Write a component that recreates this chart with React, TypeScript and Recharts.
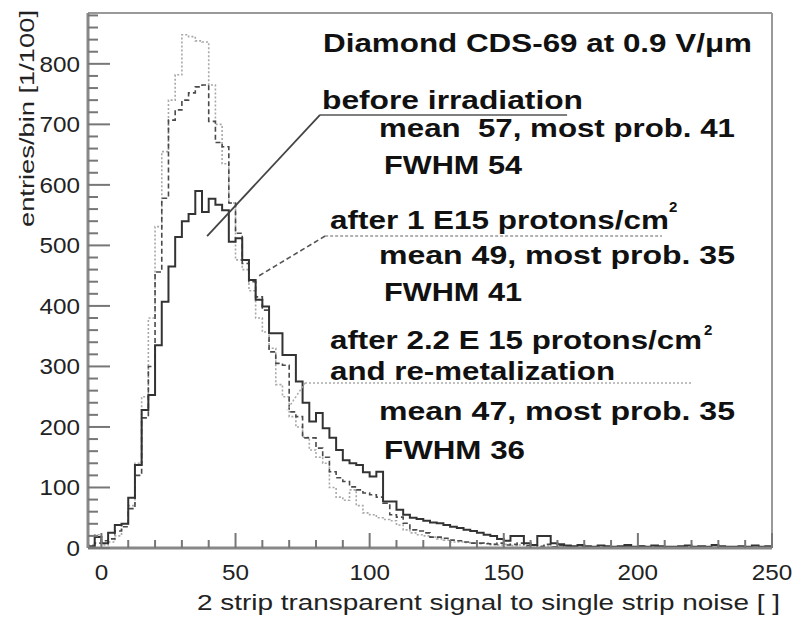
import { ComposedChart, Line, XAxis, YAxis, ReferenceLine } from "recharts";

// histogram bins: 2.5 wide, starting at -5
const binStart = -5;
const binWidth = 2.5;

const beforeIrradiation = [
  3, 18, 8, 25, 38, 40, 83, 137, 228, 253,
  335, 407, 465, 514, 540, 552, 590, 555, 577, 567,
  558, 506, 512, 476, 443, 410, 399, 355, 355, 319,
  319, 275, 240, 209, 223, 198, 182, 162, 145, 140,
  137, 125, 118, 126, 77, 77, 63, 55, 50, 48,
  45, 42, 41, 38, 35, 33, 30, 28, 25, 22,
  20, 15, 12, 20, 20, 8, 5, 20, 20, 8,
  6, 4, 3, 5, 3, 2, 4, 3, 2, 3,
  5, 2, 3, 2, 4, 3, 2, 2, 3, 4,
  2, 3, 2, 5, 3, 2, 2, 3, 2, 4,
  2, 3,
];

const after1E15 = [
  0, 8, 12, 15, 28, 35, 65, 120, 215, 300,
  456, 578, 707, 724, 740, 752, 762, 765, 705, 670,
  663, 570, 520, 470, 440, 415, 393, 324, 305, 302,
  225, 217, 182, 182, 165, 150, 126, 116, 110, 101,
  96, 91, 88, 84, 74, 55, 51, 41, 30, 28,
  25, 18, 18, 16, 13, 12, 10, 8, 8, 7,
  6, 8, 5, 6, 8, 4, 5, 3, 6, 2,
  4, 3, 2, 3, 1, 2, 3, 2, 1, 2,
  2, 1, 3, 1, 2, 1, 2, 1, 1, 2,
  1, 1, 2, 1, 1, 1, 2, 1, 1, 1,
  1, 1,
];

const after22E15 = [
  5, 22, 5, 10, 20, 40, 70, 140, 250, 380,
  531, 655, 740, 782, 848, 845, 838, 836, 765, 700,
  635, 570, 476, 460, 425, 380, 357, 330, 270, 250,
  217, 200, 183, 162, 150, 140, 100, 84, 79, 96,
  70, 58, 55, 50, 47, 45, 38, 30, 25, 22,
  20, 18, 15, 13, 10, 10, 9, 8, 7, 8,
  6, 5, 6, 4, 5, 3, 4, 2, 3, 2,
  1, 3, 1, 2, 1, 1, 2, 1, 1, 1,
  2, 1, 1, 0, 1, 1, 1, 0, 1, 1,
  0, 1, 1, 0, 1, 0, 1, 1, 0, 1,
  0, 1,
];

const xTicks = [
  0, 10, 20, 30, 40, 50, 60, 70, 80, 90, 100, 110, 120, 130, 140, 150,
  160, 170, 180, 190, 200, 210, 220, 230, 240, 250,
];
const yTicks = [
  0, 20, 40, 60, 80, 100, 120, 140, 160, 180, 200, 220, 240, 260, 280, 300,
  320, 340, 360, 380, 400, 420, 440, 460, 480, 500, 520, 540, 560, 580, 600,
  620, 640, 660, 680, 700, 720, 740, 760, 780, 800, 820, 840, 860, 880,
];

const n = beforeIrradiation.length;
const rows = beforeIrradiation
  .map((_, i) => binStart + i * binWidth)
  .concat([250])
  .map((x, i) => ({
    x,
    before: beforeIrradiation[Math.min(i, n - 1)],
    p1: after1E15[Math.min(i, n - 1)],
    p22: after22E15[Math.min(i, n - 1)],
  }));

const font = "'Liberation Sans', Arial, Helvetica, sans-serif";

const XTick = (props: any) => {
  const { x, y, payload } = props;
  const major = payload.value % 50 === 0;
  const label = String(payload.value);
  return (
    <g>
      <line x1={x} x2={x} y1={y} y2={y - (major ? 15 : 8)} stroke="#777" strokeWidth={2} />
      {major && (
        <text
          x={x}
          y={y + 32}
          textAnchor="middle"
          fontFamily={font}
          fontSize={22}
          fill="#222"
          textLength={label.length * 13.5}
          lengthAdjust="spacingAndGlyphs"
        >
          {label}
        </text>
      )}
    </g>
  );
};

const YTick = (props: any) => {
  const { x, y, payload } = props;
  const major = payload.value % 100 === 0;
  const label = String(payload.value);
  return (
    <g>
      <line x1={x} x2={x + (major ? 22 : 10)} y1={y} y2={y} stroke="#777" strokeWidth={2} />
      {major && payload.value <= 800 && (
        <text
          x={x - 8}
          y={y + 8}
          textAnchor="end"
          fontFamily={font}
          fontSize={22}
          fill="#222"
          textLength={label.length * 13.5}
          lengthAdjust="spacingAndGlyphs"
        >
          {label}
        </text>
      )}
    </g>
  );
};

const notes = [
  { t: "Diamond CDS-69 at 0.9 V/\u03bcm", x: 323, y: 52, w: 429 },
  { t: "before irradiation", x: 322, y: 109, w: 261 },
  { t: "mean  57, most prob. 41", x: 379, y: 137, w: 356 },
  { t: "FWHM 54", x: 384, y: 174, w: 138 },
  { t: "after 1 E15 protons/cm", x: 330, y: 229, w: 339 },
  { t: "mean 49, most prob. 35", x: 379, y: 264, w: 356 },
  { t: "FWHM 41", x: 384, y: 301, w: 138 },
  { t: "after 2.2 E 15 protons/cm", x: 330, y: 349, w: 372 },
  { t: "and re-metalization", x: 330, y: 380, w: 285 },
  { t: "mean 47, most prob. 35", x: 379, y: 420, w: 356 },
  { t: "FWHM 36", x: 384, y: 459, w: 141 },
];

const supers = [
  { x: 669, y: 212 },
  { x: 704, y: 335 },
];

export default function App() {
  return (
    <div style={{ position: "absolute", left: 0, top: 0, width: 796, height: 620, background: "#fff" }}>
      <ComposedChart width={796} height={620} data={rows} margin={{ top: 13, right: 24, bottom: 0, left: 0 }}>
        <XAxis
          dataKey="x"
          type="number"
          domain={[-5, 250]}
          ticks={xTicks}
          interval={0}
          tickSize={0}
          tickMargin={0}
          tickLine={false}
          tick={<XTick />}
          height={72}
          axisLine={{ stroke: "#888", strokeWidth: 3 }}
        />
        <YAxis
          type="number"
          domain={[0, 884]}
          ticks={yTicks}
          interval={0}
          tickSize={0}
          tickMargin={0}
          tickLine={false}
          tick={<YTick />}
          width={88}
          axisLine={{ stroke: "#888", strokeWidth: 3 }}
        />
        <ReferenceLine y={884} stroke="#999" strokeWidth={2} />
        <ReferenceLine x={250} stroke="#999" strokeWidth={2} />

        <Line type="stepAfter" dataKey="p22" stroke="#a8a8a8" strokeWidth={1.6} strokeDasharray="2 2" dot={false} isAnimationActive={false} />
        <Line type="stepAfter" dataKey="p1" stroke="#4a4a4a" strokeWidth={1.6} strokeDasharray="5 3" dot={false} isAnimationActive={false} />
        <Line type="stepAfter" dataKey="before" stroke="#333" strokeWidth={2} dot={false} isAnimationActive={false} />

        {/* leader lines to the curves */}
        <ReferenceLine segment={[{ x: 81.5, y: 715.5 }, { x: 173.6, y: 715.5 }]} stroke="#555" strokeWidth={1.5} ifOverflow="visible" />
        <ReferenceLine segment={[{ x: 81.5, y: 715.5 }, { x: 39.4, y: 515.5 }]} stroke="#444" strokeWidth={1.8} ifOverflow="visible" />
        <ReferenceLine segment={[{ x: 83.4, y: 515.5 }, { x: 209, y: 515.5 }]} stroke="#999" strokeWidth={1.5} strokeDasharray="3 2" ifOverflow="visible" />
        <ReferenceLine segment={[{ x: 83.4, y: 515.5 }, { x: 58, y: 447.8 }]} stroke="#555" strokeWidth={1.6} strokeDasharray="5 3" ifOverflow="visible" />
        <ReferenceLine segment={[{ x: 75.9, y: 272.6 }, { x: 220.2, y: 272.6 }]} stroke="#aaa" strokeWidth={1.5} strokeDasharray="2 2" ifOverflow="visible" />
        <ReferenceLine segment={[{ x: 75.9, y: 272.6 }, { x: 69.2, y: 228 }]} stroke="#aaa" strokeWidth={1.5} strokeDasharray="2 2" ifOverflow="visible" />
      </ComposedChart>

      <svg width={796} height={620} style={{ position: "absolute", left: 0, top: 0, pointerEvents: "none" }}>
        {notes.map((nt) => (
          <text
            key={nt.t}
            x={nt.x}
            y={nt.y}
            fontFamily={font}
            fontWeight="bold"
            fontSize={25}
            fill="#111"
            textLength={nt.w}
            lengthAdjust="spacingAndGlyphs"
            style={{ whiteSpace: "pre" }}
          >
            {nt.t}
          </text>
        ))}
        {supers.map((s, i) => (
          <text key={i} x={s.x} y={s.y} fontFamily={font} fontWeight="bold" fontSize={15} fill="#111">
            2
          </text>
        ))}
        <text
          x={197}
          y={610}
          fontFamily={font}
          fontSize={22}
          fill="#222"
          textLength={583}
          lengthAdjust="spacingAndGlyphs"
        >
          2 strip transparent signal to single strip noise [ ]
        </text>
        <text
          transform="translate(34,227) rotate(-90)"
          fontFamily={font}
          fontSize={21}
          fill="#222"
          textLength={217}
          lengthAdjust="spacingAndGlyphs"
        >
          entries/bin [1/100]
        </text>
      </svg>
    </div>
  );
}
